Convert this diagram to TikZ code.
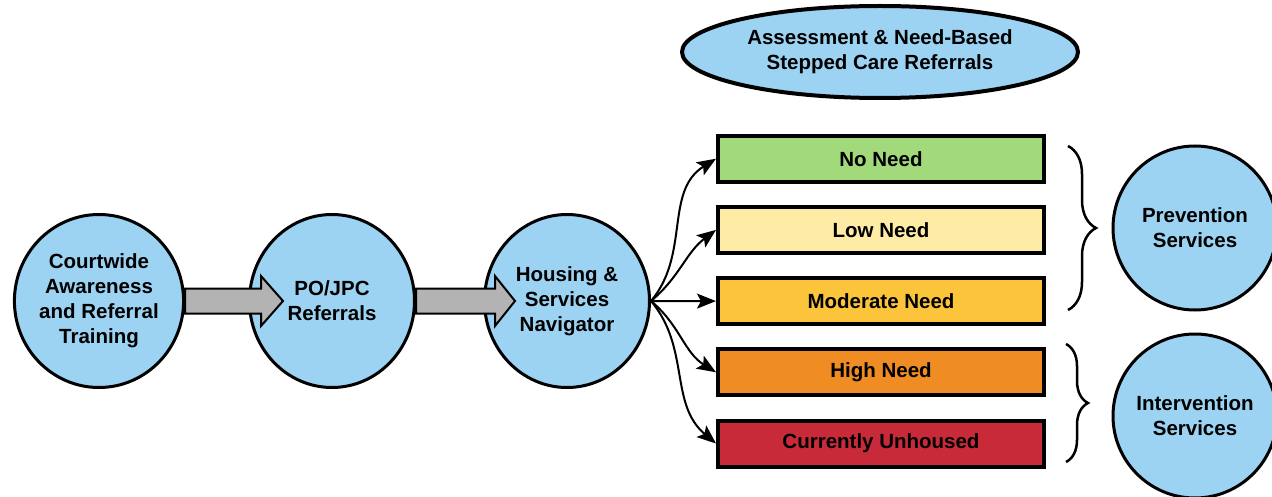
\documentclass[tikz,border=0pt]{standalone}
\usepackage{fontspec}
\setmainfont{Liberation Sans}
\usetikzlibrary{shapes.geometric,arrows.meta,calc,decorations.pathreplacing}
\definecolor{skyfill}{HTML}{9DD3F2}
\definecolor{noneed}{HTML}{A2D97A}
\definecolor{lowneed}{HTML}{FEEBA6}
\definecolor{modneed}{HTML}{FCC43A}
\definecolor{highneed}{HTML}{EF8C23}
\definecolor{unhoused}{HTML}{C92A39}
\definecolor{arrowgray}{HTML}{B3B3B3}
\tikzset{
  lbl/.style={font=\fontsize{20.5}{25}\selectfont\bfseries, align=center},
  bubble/.style={lbl, ellipse, draw, line width=3pt, fill=skyfill, inner sep=0pt},
  needbox/.style={lbl, rectangle, draw, line width=4pt, minimum width=326pt, minimum height=46pt},
  blockarr/.style={draw=black, line width=2pt, fill=arrowgray, line join=miter},
  fan/.style={line width=2pt, -{Stealth[length=19pt,width=15pt,inset=4pt]}},
  curly/.style={line width=2.5pt, decorate}
}
\begin{document}
\begin{tikzpicture}[x=1pt,y=-1pt]
\useasboundingbox (0,0) rectangle (1272,497);
\clip (0,0) rectangle (1272,497);

% left chain
\node[bubble, minimum width=165pt, minimum height=173pt] (court) at (99,301) {Courtwide\\Awareness\\and Referral\\Training};
\node[bubble, minimum width=165pt, minimum height=173pt] (po) at (332,301) {PO/JPC\\Referrals};
\node[bubble, minimum width=165pt, minimum height=173pt] (nav) at (567,301) {Housing \&\\Services\\Navigator};

\draw[blockarr] ($(court.east)+(0,-12.5)$) -- ($(po.west)+(13,-12.5)$) -- ($(po.west)+(13,-25)$)
  -- ($(po.west)+(35,0)$) -- ($(po.west)+(13,25)$) -- ($(po.west)+(13,12.5)$) -- ($(court.east)+(0,12.5)$) -- cycle;
\draw[blockarr] ($(po.east)+(0,-12.5)$) -- ($(nav.west)+(12,-12.5)$) -- ($(nav.west)+(12,-25)$)
  -- ($(nav.west)+(32,0)$) -- ($(nav.west)+(12,25)$) -- ($(nav.west)+(12,12.5)$) -- ($(po.east)+(0,12.5)$) -- cycle;

% stepped care
\node[bubble, line width=4pt, minimum width=396pt, minimum height=92pt] (assess) at (880,52) {Assessment \& Need-Based\\Stepped Care Referrals};

\foreach \i/\txt/\col/\o/\a in {1/No Need/noneed/50/212, 2/Low Need/lowneed/40/217, 3/Moderate Need/modneed/0/180, 4/High Need/highneed/-40/148, 5/Currently Unhoused/unhoused/-50/140} {
  \node[needbox, fill=\col] (b\i) at (881,87.5+71.2*\i) {\txt};
  \draw[fan] (nav.east) to[out=\o,in=\a] (b\i.west);
}

% services
\node[bubble, circle, minimum size=164pt] (prev) at (1195,228) {Prevention\\Services};
\node[bubble, circle, minimum size=164pt] (interv) at (1195,416) {Intervention\\Services};

\draw[curly, decoration={brace,amplitude=28pt}] (1068,146) -- (1068,310);
\draw[curly, decoration={brace,amplitude=22pt}] (1066,344) -- (1066,462);
\end{tikzpicture}
\end{document}
